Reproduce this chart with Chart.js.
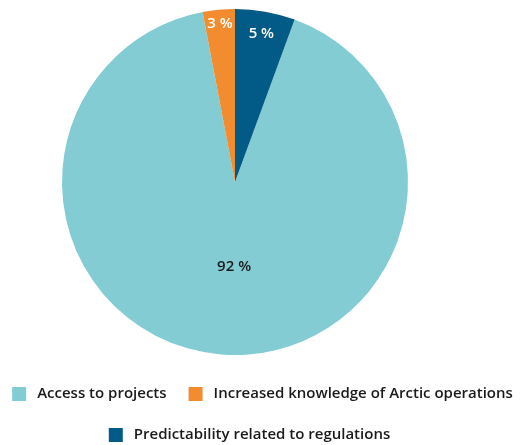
<!DOCTYPE html>
<html>
<head>
<meta charset="utf-8">
<script src="https://cdn.jsdelivr.net/npm/chart.js@4"></script>
<style>
  html, body { margin: 0; padding: 0; background: #fff; }
  #wrap { width: 525px; height: 445px; }
</style>
</head>
<body>
<div id="wrap"><canvas id="pieChart"></canvas></div>
<script>
var categories = ["Access to projects", "Increased knowledge of Arctic operations", "Predictability related to regulations"];
// wedge sizes as drawn in the picture; printed labels are the rounded figures
var shares = [91.4, 3.0, 5.6];
var shareLabels = ["92 %", "3 %", "5 %"];
var sliceColors = ["#84ccd4", "#f28c2f", "#025b86"];

// label placement (fraction of radius, x nudge) and colour per slice
var labelDist = [0.49, 0.92, 0.87];
var labelNudge = [6, 0, 0];
var labelColor = ["#1a1a1a", "#ffffff", "#ffffff"];

// legend rows (indices into categories) and their horizontal shift
var legendRows = [[0, 1], [2]];
var legendShift = [0, -13];

var sliceLabels = {
    id: "sliceLabels",
    afterLayout: function(chart) {
        // pie sits left of centre, the legend stays centred on the page
        chart.chartArea.right -= 55;
        chart.chartArea.width = chart.chartArea.right - chart.chartArea.left;
    },
    afterDatasetsDraw: function(chart) {
        var ctx = chart.ctx;
        var arcs = chart.getDatasetMeta(0).data;
        ctx.save();
        ctx.font = "600 15px 'Open Sans'";
        ctx.textAlign = "center";
        ctx.textBaseline = "middle";
        arcs.forEach(function(arc, i) {
            var mid = (arc.startAngle + arc.endAngle) / 2;
            var r = arc.outerRadius * labelDist[i];
            ctx.fillStyle = labelColor[i];
            ctx.fillText(shareLabels[i], arc.x + Math.cos(mid) * r + labelNudge[i], arc.y + Math.sin(mid) * r);
        });
        ctx.restore();
    }
};

var rowLegend = {
    id: "rowLegend",
    afterDraw: function(chart) {
        var ctx = chart.ctx;
        var labels = chart.data.labels;
        var colors = chart.data.datasets[0].backgroundColor;
        var box = 14, textGap = 11, itemGap = 22;
        var rowY = [394, 435];
        ctx.save();
        ctx.font = "600 15px 'Open Sans'";
        ctx.textBaseline = "middle";
        ctx.textAlign = "left";
        legendRows.forEach(function(row, r) {
            var widths = row.map(function(i) { return box + textGap + ctx.measureText(labels[i]).width; });
            var total = widths.reduce(function(a, b) { return a + b; }, 0) + itemGap * (row.length - 1);
            var x = (chart.width - total) / 2 + legendShift[r];
            row.forEach(function(i, k) {
                ctx.fillStyle = colors[i];
                ctx.fillRect(x, rowY[r] - box / 2, box, box);
                ctx.fillStyle = "#1a1a1a";
                ctx.fillText(labels[i], x + box + textGap, rowY[r]);
                x += widths[k] + itemGap;
            });
        });
        ctx.restore();
    }
};

var ctx = document.getElementById("pieChart").getContext("2d");
var myChart = new Chart(ctx, {
    type: "pie",
    data: {
        labels: categories,
        datasets: [{
            data: shares,
            backgroundColor: sliceColors,
            borderWidth: 0
        }]
    },
    options: {
        responsive: true,
        maintainAspectRatio: false,
        animation: false,
        rotation: 20.16,
        layout: {
            padding: { top: 9, right: 0, left: 0, bottom: 90 }
        },
        plugins: {
            legend: { display: false },
            tooltip: { enabled: false }
        }
    },
    plugins: [sliceLabels, rowLegend]
});
</script>
</body>
</html>
